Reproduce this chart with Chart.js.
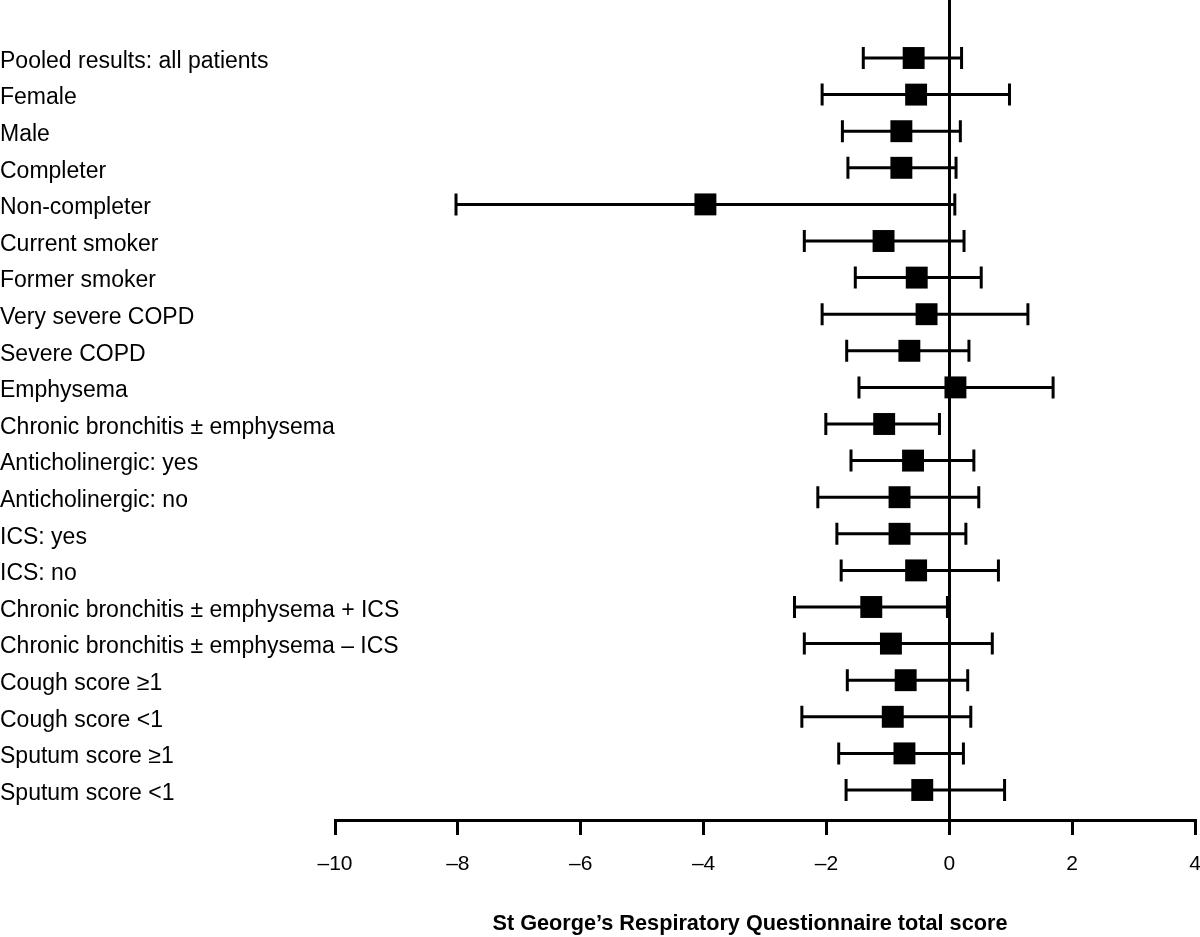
<!DOCTYPE html>
<html>
<head>
<meta charset="utf-8">
<script src="https://cdn.jsdelivr.net/npm/chart.js@4.4.1/dist/chart.umd.min.js"></script>
<style>
  html, body { margin: 0; background: #fff; }
</style>
</head>
<body>
<canvas id="cForest" width="1200" height="937"></canvas>
<script>
// ── Datos ─────────────────────────────────────────────────────────
const subgroups = [
  'Pooled results: all patients', 'Female', 'Male', 'Completer', 'Non-completer',
  'Current smoker', 'Former smoker', 'Very severe COPD', 'Severe COPD', 'Emphysema',
  'Chronic bronchitis ± emphysema', 'Anticholinergic: yes', 'Anticholinergic: no',
  'ICS: yes', 'ICS: no', 'Chronic bronchitis ± emphysema + ICS',
  'Chronic bronchitis ± emphysema – ICS', 'Cough score ≥1', 'Cough score <1',
  'Sputum score ≥1', 'Sputum score <1',
];
const meanDiff = [-0.58, -0.54, -0.78, -0.78, -3.97, -1.07, -0.53, -0.37, -0.65, 0.10, -1.06,
                  -0.59, -0.81, -0.81, -0.54, -1.27, -0.95, -0.71, -0.92, -0.73, -0.44];
const ciLow    = [-1.40, -2.07, -1.74, -1.65, -8.03, -2.36, -1.53, -2.07, -1.67, -1.47, -2.01,
                  -1.60, -2.14, -1.83, -1.76, -2.52, -2.36, -1.66, -2.40, -1.80, -1.68];
const ciHigh   = [0.20, 0.98, 0.18, 0.11, 0.09, 0.24, 0.52, 1.28, 0.32, 1.69, -0.16,
                  0.40, 0.48, 0.27, 0.80, -0.03, 0.70, 0.30, 0.35, 0.23, 0.90];
const xTicks = [-10, -8, -6, -4, -2, 0, 2, 4];
const axisTitle = 'St George’s Respiratory Questionnaire total score';

const FONT = "'Liberation Sans', Arial, Helvetica, sans-serif";
const LABEL_W = 335;   // ancho de la columna de etiquetas

// ── Barras de error (IC) ──────────────────────────────────────────
const whiskers = {
  id: 'whiskers',
  beforeDatasetsDraw(chart) {
    const { ctx, scales: { x, y } } = chart;
    ctx.save();
    ctx.strokeStyle = '#000';
    ctx.lineWidth = 3;
    subgroups.forEach((_, i) => {
      const py = y.getPixelForValue(i + 1);
      const x0 = x.getPixelForValue(ciLow[i]);
      const x1 = x.getPixelForValue(ciHigh[i]);
      ctx.beginPath();
      ctx.moveTo(x0, py); ctx.lineTo(x1, py);
      ctx.moveTo(x0, py - 11); ctx.lineTo(x0, py + 11);
      ctx.moveTo(x1, py - 11); ctx.lineTo(x1, py + 11);
      ctx.stroke();
    });
    ctx.restore();
  },
};

// ── Grafico ───────────────────────────────────────────────────────
new Chart(document.getElementById('cForest'), {
  type: 'scatter',
  data: {
    datasets: [{
      data: meanDiff.map((v, i) => ({ x: v, y: i + 1 })),
      pointStyle: 'rect',
      pointRadius: 15.5,
      pointHoverRadius: 15.5,
      backgroundColor: '#000',
      borderWidth: 0,
    }],
  },
  options: {
    responsive: false, animation: false,
    layout: { autoPadding: false, padding: { left: 0, right: 5, top: 0, bottom: 0 } },
    plugins: { legend: { display: false }, tooltip: { enabled: false } },
    scales: {
      x: {
        type: 'linear', min: -10, max: 4,
        afterBuildTicks: s => { s.ticks = xTicks.map(v => ({ value: v })); },
        afterFit: s => { s.height = 117; s.paddingLeft = 0; s.paddingRight = 0; },
        ticks: {
          color: '#000', padding: 17, font: { family: FONT, size: 21 },
          callback: v => (v < 0 ? '\u2013' + Math.abs(v) : String(v)),
        },
        grid: {
          color: c => (c.tick && c.tick.value === 0 ? '#000' : 'rgba(0,0,0,0)'),
          lineWidth: 3, tickColor: '#000', tickWidth: 3, tickLength: 15,
        },
        border: { display: true, color: '#000', width: 3 },
        // espacios finales: el titulo original esta algo corrido a la izquierda
        title: {
          display: true, text: axisTitle + '\u00a0'.repeat(5), color: '#000',
          font: { family: FONT, size: 21.7, weight: 'bold' },
          padding: { top: 0, bottom: 0 },
        },
      },
      y: {
        type: 'linear', reverse: true, min: -0.585, max: 21.82,
        afterBuildTicks: s => { s.ticks = subgroups.map((_, i) => ({ value: i + 1 })); },
        afterFit: s => { s.width = LABEL_W; s.paddingTop = 0; s.paddingBottom = 0; },
        // mirror + padding negativo: etiquetas alineadas al borde izquierdo, sin recorte.
        // linea vacia + lineHeight chico: baja el texto ~3px como en el original
        ticks: {
          autoSkip: false, color: '#000', mirror: true, padding: -LABEL_W, crossAlign: 'near',
          font: { family: FONT, size: 23, lineHeight: '7px' },
          callback: v => ['', subgroups[v - 1] || ''],
        },
        grid: { display: false, drawTicks: false },
        border: { display: false },
      },
    },
  },
  plugins: [whiskers],
});
</script>
</body>
</html>
